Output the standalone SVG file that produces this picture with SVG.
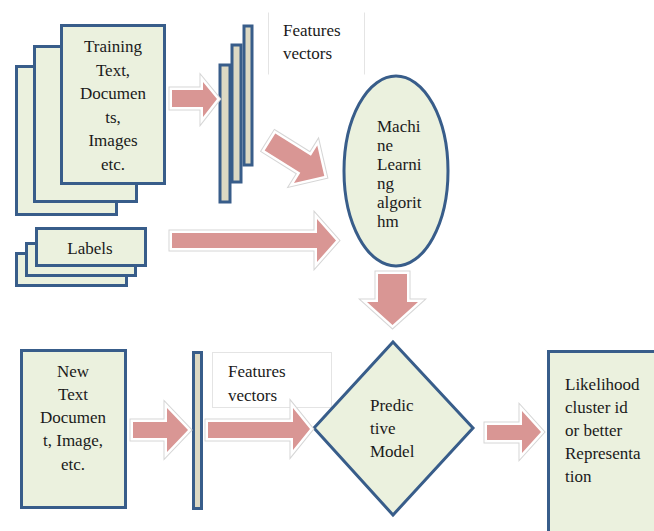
<svg xmlns="http://www.w3.org/2000/svg" width="654" height="531" viewBox="0 0 654 531">
<defs>
<path id="a1" d="M172,90 H203 V82 L217,99 L203,117 V107 H172 Z"/>
<path id="a2" d="M0,-10 H42 V-22 L64,0 L42,22 V10 H0 Z" transform="translate(270,142) rotate(32)"/>
<path id="a3" d="M172,233 H317 V219 L336,240.5 L317,262 V248 H172 Z"/>
<path id="a4" d="M378,274 H407 V302 H418 L392.5,325 L367,302 H378 Z"/>
<path id="a5" d="M133,422 H167 V408 L188,430 L167,452 V438 H133 Z"/>
<path id="a6" d="M208,422 H293 V408 L310,429 L293,450 V438 H208 Z"/>
<path id="a7" d="M487,425 H522 V411 L541,432 L522,453 V440 H487 Z"/>
</defs>
<rect x="0" y="0" width="654" height="531" fill="#ffffff"/>

<g id="training-docs" fill="#EBF1DE" stroke="#385D8A" stroke-width="3">
<rect x="16.5" y="66.5" width="100" height="148"/>
<rect x="34.5" y="46.5" width="102" height="155"/>
<rect x="61.5" y="25.5" width="103" height="158"/>
</g>
<text font-family="Liberation Serif" font-size="17" fill="#1a1a1a" text-anchor="middle" x="113" y="52">Training</text>
<text font-family="Liberation Serif" font-size="17" fill="#1a1a1a" text-anchor="middle" x="113" y="75.5">Text,</text>
<text font-family="Liberation Serif" font-size="17" fill="#1a1a1a" text-anchor="middle" x="113" y="99">Documen</text>
<text font-family="Liberation Serif" font-size="17" fill="#1a1a1a" text-anchor="middle" x="113" y="122.5">ts,</text>
<text font-family="Liberation Serif" font-size="17" fill="#1a1a1a" text-anchor="middle" x="113" y="146">Images</text>
<text font-family="Liberation Serif" font-size="17" fill="#1a1a1a" text-anchor="middle" x="113" y="169.5">etc.</text>

<g id="labels" fill="#EBF1DE" stroke="#385D8A" stroke-width="3">
<rect x="16.5" y="253.5" width="110" height="32"/>
<rect x="26.5" y="243.5" width="109" height="32"/>
<rect x="36.5" y="228.5" width="109" height="37"/>
</g>
<text font-family="Liberation Serif" font-size="17" fill="#1a1a1a" text-anchor="middle" x="90" y="254">Labels</text>

<g id="feature-vectors-top" fill="#DDD9C3" stroke="#385D8A" stroke-width="3">
<rect x="244" y="26" width="8" height="139"/>
<rect x="232" y="45" width="9" height="137"/>
<rect x="220" y="65" width="10" height="137"/>
</g>

<g id="features-label-top">
<rect x="268.5" y="12.5" width="96" height="62" fill="#ffffff" stroke="#e4e4e4" stroke-width="1" stroke-dasharray="0 96 62 96 62"/>
</g>
<text font-family="Liberation Serif" font-size="17" fill="#1a1a1a" x="283" y="36">Features</text>
<text font-family="Liberation Serif" font-size="17" fill="#1a1a1a" x="283" y="59">vectors</text>

<g id="ml-algorithm">
<ellipse cx="396" cy="171" rx="52" ry="95" fill="#EBF1DE" stroke="#385D8A" stroke-width="3"/>
</g>
<text font-family="Liberation Serif" font-size="17" fill="#1a1a1a" x="377" y="132">Machi</text>
<text font-family="Liberation Serif" font-size="17" fill="#1a1a1a" x="377" y="151">ne</text>
<text font-family="Liberation Serif" font-size="17" fill="#1a1a1a" x="377" y="170">Learni</text>
<text font-family="Liberation Serif" font-size="17" fill="#1a1a1a" x="377" y="189">ng</text>
<text font-family="Liberation Serif" font-size="17" fill="#1a1a1a" x="377" y="208">algorit</text>
<text font-family="Liberation Serif" font-size="17" fill="#1a1a1a" x="377" y="227">hm</text>

<g id="new-doc">
<rect x="21.5" y="350.5" width="104" height="157" fill="#EBF1DE" stroke="#385D8A" stroke-width="3"/>
</g>
<text font-family="Liberation Serif" font-size="17" fill="#1a1a1a" text-anchor="middle" x="73" y="377">New</text>
<text font-family="Liberation Serif" font-size="17" fill="#1a1a1a" text-anchor="middle" x="73" y="400">Text</text>
<text font-family="Liberation Serif" font-size="17" fill="#1a1a1a" text-anchor="middle" x="73" y="423">Documen</text>
<text font-family="Liberation Serif" font-size="17" fill="#1a1a1a" text-anchor="middle" x="73" y="446">t, Image,</text>
<text font-family="Liberation Serif" font-size="17" fill="#1a1a1a" text-anchor="middle" x="73" y="470">etc.</text>

<g id="feature-vector-bottom">
<rect x="193.5" y="352.5" width="8" height="156" fill="#DDD9C3" stroke="#385D8A" stroke-width="3"/>
</g>

<g id="features-label-bottom">
<rect x="212.5" y="352.5" width="119" height="55" fill="#ffffff" stroke="#e4e4e4" stroke-width="1"/>
</g>
<text font-family="Liberation Serif" font-size="17" fill="#1a1a1a" x="228" y="377">Features</text>
<text font-family="Liberation Serif" font-size="17" fill="#1a1a1a" x="228" y="401">vectors</text>

<g id="predictive-model">
<polygon points="393,342 473,428 393,515 314,428" fill="#EBF1DE" stroke="#385D8A" stroke-width="3"/>
</g>
<text font-family="Liberation Serif" font-size="17" fill="#1a1a1a" x="370" y="411">Predic</text>
<text font-family="Liberation Serif" font-size="17" fill="#1a1a1a" x="370" y="434">tive</text>
<text font-family="Liberation Serif" font-size="17" fill="#1a1a1a" x="370" y="457">Model</text>

<g id="result">
<rect x="548.5" y="351.5" width="120" height="200" fill="#EBF1DE" stroke="#385D8A" stroke-width="3"/>
</g>
<text font-family="Liberation Serif" font-size="17" fill="#1a1a1a" x="565" y="390">Likelihood</text>
<text font-family="Liberation Serif" font-size="17" fill="#1a1a1a" x="565" y="413">cluster id</text>
<text font-family="Liberation Serif" font-size="17" fill="#1a1a1a" x="565" y="436">or better</text>
<text font-family="Liberation Serif" font-size="17" fill="#1a1a1a" x="565" y="459">Representa</text>
<text font-family="Liberation Serif" font-size="17" fill="#1a1a1a" x="565" y="482">tion</text>

<g id="connectors">
<g fill="#ffffff" stroke="#d6d6d6" stroke-width="7">
<use href="#a1"/><use href="#a2"/><use href="#a3"/><use href="#a4"/><use href="#a5"/><use href="#a6"/><use href="#a7"/>
</g>
<g fill="#ffffff" stroke="#ffffff" stroke-width="5">
<use href="#a1"/><use href="#a2"/><use href="#a3"/><use href="#a4"/><use href="#a5"/><use href="#a6"/><use href="#a7"/>
</g>
<g fill="#D99694">
<use href="#a1"/><use href="#a2"/><use href="#a3"/><use href="#a4"/><use href="#a5"/><use href="#a6"/><use href="#a7"/>
</g>
</g>
</svg>
